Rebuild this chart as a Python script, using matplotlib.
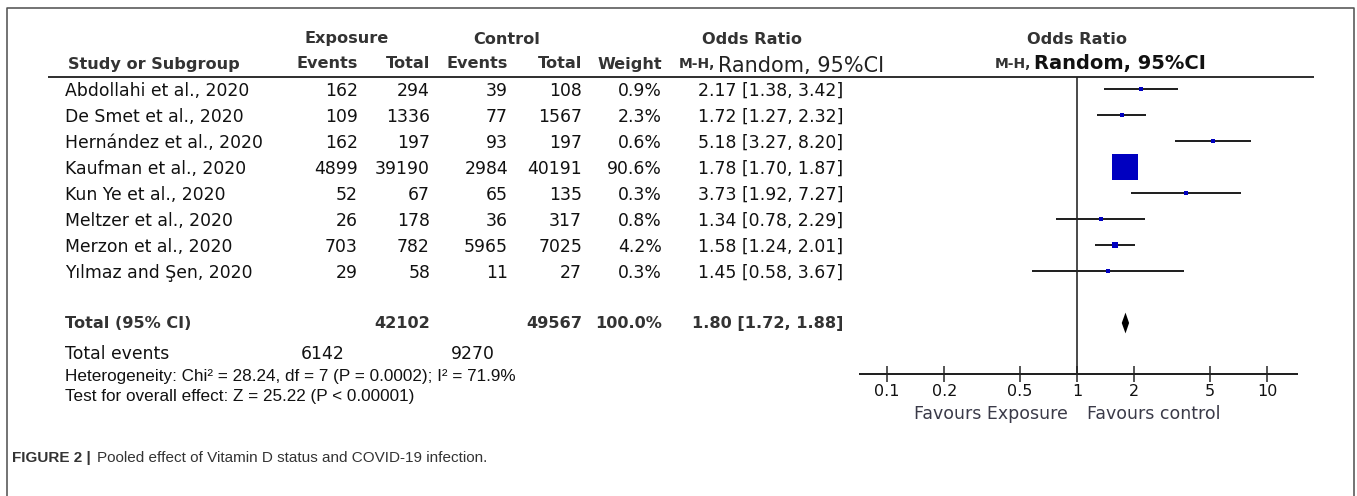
import numpy as np
import matplotlib
matplotlib.use("Agg")
import matplotlib.pyplot as plt

# ---- data ----
studies = ["Abdollahi et al., 2020", "De Smet et al., 2020", "Hernández et al., 2020",
           "Kaufman et al., 2020", "Kun Ye et al., 2020", "Meltzer et al., 2020",
           "Merzon et al., 2020", "Yılmaz and Şen, 2020"]
exp_events = [162, 109, 162, 4899, 52, 26, 703, 29]
exp_total = [294, 1336, 197, 39190, 67, 178, 782, 58]
ctl_events = [39, 77, 93, 2984, 65, 36, 5965, 11]
ctl_total = [108, 1567, 197, 40191, 135, 317, 7025, 27]
weights = [0.9, 2.3, 0.6, 90.6, 0.3, 0.8, 4.2, 0.3]
odds = [2.17, 1.72, 5.18, 1.78, 3.73, 1.34, 1.58, 1.45]
ci_lo = [1.38, 1.27, 3.27, 1.70, 1.92, 0.78, 1.24, 0.58]
ci_hi = [3.42, 2.32, 8.20, 1.87, 7.27, 2.29, 2.01, 3.67]

pooled_or = 1.80
pooled_lo = 1.72
pooled_hi = 1.88
exp_total_sum = 42102
ctl_total_sum = 49567
exp_events_sum = 6142
ctl_events_sum = 9270
het_text = "Heterogeneity: Chi\u00b2 = 28.24, df = 7 (P = 0.0002); I\u00b2 = 71.9%"
test_text = "Test for overall effect: Z = 25.22 (P < 0.00001)"
ticks = [0.1, 0.2, 0.5, 1, 2, 5, 10]
tick_labels = ["0.1", "0.2", "0.5", "1", "2", "5", "10"]

W, H = 1357, 496
fig = plt.figure(figsize=(W / 100, H / 100), dpi=100)
fig.patch.set_facecolor("white")

# table axis in pixel units
ax = fig.add_axes([0, 0, 1, 1])
ax.set_xlim(0, W)
ax.set_ylim(H, 0)
ax.axis("off")

hdr = "#333333"
body = "#111111"
fs = 12.4
hfs = 11.6
lw_px = 0.72  # 1 px in points

# outer frame (open at bottom)
ax.plot([7, 7, 1354, 1354], [H, 8, 8, H], color="#555555", lw=1.6 * lw_px, solid_capstyle="butt")

# header
ax.text(347, 39, "Exposure", ha="center", va="center", fontsize=hfs, fontweight="bold", color=hdr)
ax.text(507, 39, "Control", ha="center", va="center", fontsize=hfs, fontweight="bold", color=hdr)
ax.text(752, 39, "Odds Ratio", ha="center", va="center", fontsize=hfs, fontweight="bold", color=hdr)
ax.text(1077, 39, "Odds Ratio", ha="center", va="center", fontsize=hfs, fontweight="bold", color=hdr)
ax.text(68, 64, "Study or Subgroup", ha="left", va="center", fontsize=hfs, fontweight="bold", color=hdr)
col_right = [358, 430, 508, 582, 662]
for x, lab in zip(col_right, ["Events", "Total", "Events", "Total", "Weight"]):
    ax.text(x, 64, lab, ha="right", va="center", fontsize=hfs, fontweight="bold", color=hdr)
ax.text(679, 64, "M-H,", ha="left", va="center", fontsize=10, fontweight="bold", color=hdr)
ax.text(718, 66, "Random, 95%CI", ha="left", va="center", fontsize=15, color="#222222")
ax.text(995, 64, "M-H,", ha="left", va="center", fontsize=10, fontweight="bold", color=hdr)
ax.text(1034, 63, "Random, 95%CI", ha="left", va="center", fontsize=14, fontweight="bold", color="#111111")
ax.plot([49, 1313], [77, 77], color="#333333", lw=2 * lw_px)

# study rows
row_y = [90.5 + 26 * i for i in range(len(studies))]
for i, y in enumerate(row_y):
    ax.text(65, y, studies[i], ha="left", va="center", fontsize=fs, color=body)
    vals = [exp_events[i], exp_total[i], ctl_events[i], ctl_total[i]]
    for x, v in zip(col_right, vals):
        ax.text(x, y, str(v), ha="right", va="center", fontsize=fs, color=body)
    ax.text(662, y, f"{weights[i]:.1f}%", ha="right", va="center", fontsize=fs, color=body)
    ax.text(843, y, f"{odds[i]:.2f} [{ci_lo[i]:.2f}, {ci_hi[i]:.2f}]",
            ha="right", va="center", fontsize=fs, color=body)

# total row
ty = 89.5 + 26 * 9
ax.text(65, ty, "Total (95% CI)", ha="left", va="center", fontsize=hfs, fontweight="bold", color=hdr)
ax.text(430, ty, str(exp_total_sum), ha="right", va="center", fontsize=hfs, fontweight="bold", color=hdr)
ax.text(582, ty, str(ctl_total_sum), ha="right", va="center", fontsize=hfs, fontweight="bold", color=hdr)
ax.text(662, ty, f"{sum(weights):.1f}%", ha="right", va="center", fontsize=hfs, fontweight="bold", color=hdr)
ax.text(843, ty, f"{pooled_or:.2f} [{pooled_lo:.2f}, {pooled_hi:.2f}]",
        ha="right", va="center", fontsize=hfs, fontweight="bold", color=hdr)

ax.text(65, 354, "Total events", ha="left", va="center", fontsize=fs, color=body)
ax.text(345, 354, str(exp_events_sum), ha="right", va="center", fontsize=fs, color=body)
ax.text(495, 354, str(ctl_events_sum), ha="right", va="center", fontsize=fs, color=body)
ax.text(65, 376, het_text, ha="left", va="center", fontsize=12.3, color=body, family="Liberation Sans")
ax.text(65, 397, test_text, ha="left", va="center", fontsize=12.3, color=body, family="Liberation Sans")

# caption
ax.text(12, 458, "FIGURE 2 |", ha="left", va="center", fontsize=11, fontweight="bold",
        color="#333333", family="Liberation Sans")
ax.text(97, 458, "Pooled effect of Vitamin D status and COVID-19 infection.", ha="left", va="center",
        fontsize=11, color="#333333", family="Liberation Sans")

# ---- forest panel ----
x0_px, x1_px, one_px, decade_px = 860, 1297, 1077, 190
top_px, bot_px, row0_px, pitch = 77, 374, 89, 26
fx = fig.add_axes([x0_px / W, 1 - bot_px / H, (x1_px - x0_px) / W, (bot_px - top_px) / H])
fx.set_xscale("log")
fx.set_xlim(10 ** ((x0_px - one_px) / decade_px), 10 ** ((x1_px - one_px) / decade_px))
fx.set_ylim((bot_px - row0_px) / pitch, (top_px - row0_px) / pitch)
fx.patch.set_alpha(0)
for s in ["top", "left", "right"]:
    fx.spines[s].set_visible(False)
fx.spines["bottom"].set_linewidth(2 * lw_px)
fx.spines["bottom"].set_color("#222222")
fx.set_yticks([])
fx.set_xticks(ticks)
fx.set_xticklabels(tick_labels)
fx.minorticks_off()
fx.tick_params(axis="x", direction="inout", length=12, width=1.5 * lw_px, color="#222222",
               labelsize=11.5, pad=1, labelcolor="#111111")
fx.axvline(1, color="#222222", lw=1.6 * lw_px)

ys = np.arange(len(studies))
fx.hlines(ys, ci_lo, ci_hi, color="#222222", lw=2 * lw_px)
wmax = max(weights)
for i in range(len(studies)):
    side = max(27 * np.sqrt(weights[i] / wmax), 3.2)
    fx.plot(odds[i], ys[i], marker="s", ms=side * lw_px, color="#0000c0", mew=0, zorder=3)

# pooled diamond
dy = 9
dh = 0.4
fx.fill([pooled_lo, pooled_or, pooled_hi, pooled_or], [dy, dy - dh, dy, dy + dh],
        color="#000000", lw=0)

fig.text(1068 / W, 1 - 414 / H, "Favours Exposure", ha="right", va="center", fontsize=12.5, color="#3a3a48")
fig.text(1087 / W, 1 - 414 / H, "Favours control", ha="left", va="center", fontsize=12.5, color="#3a3a48")

fig.savefig("out.png", dpi=100, facecolor="white")
